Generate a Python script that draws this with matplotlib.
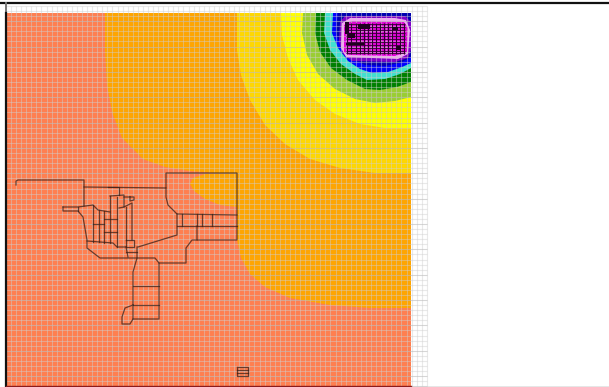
import numpy as np
import matplotlib.pyplot as plt
from matplotlib.patches import Polygon, Rectangle

# field bands, outline in image pixels (x, y), clipped at the plot edge
orange_band = [(105,13),(105,50),(107,85),(112,112),(122,138),(143,159),(165,167),(190,171),(215,173),(237,173),
               (237,240),(241,258),(250,274),(265,287),(290,298),(330,305),(370,308),(411,308),(411,13)]
orange_lobe = [(237,173),(205,174),(193,178),(190,184),(194,191),(205,199),(220,205),(237,207)]
gold_band = [(237,13),(237,50),(241,75),(250,100),(265,125),(285,144),(310,159),(340,168),(375,173),(411,173),(411,13)]
yellow_band = [(281,13),(282,35),(288,58),(298,80),(315,100),(335,114),(360,124),(385,128),(411,128),(411,13)]
yellowgreen_band = [(303,13),(302,33),(307,55),(318,74),(335,89),(355,99),(375,103),(395,101),(411,97),(411,13)]
green_band = [(316,13),(315,33),(320,52),(331,68),(347,80),(365,89),(380,90),(397,87),(411,82),(411,13)]
turquoise_band = [(325,13),(324,33),(330,50),(341,64),(355,74),(367,80),(385,79),(400,74),(411,68),(411,13)]
blue_band = [(333,13),(332,33),(338,48),(348,61),(360,69),(372,73),(388,72),(402,67),(411,63),(411,13)]
navy_band = [(338,13),(336,32),(340,46),(350,58),(365,65),(385,66),(400,63),(411,57),(411,13)]
purple_band = [(345,16),(340,22),(339,42),(343,54),(352,61),(395,62),(408,58),(411,50),(411,22),(405,16)]
halo_band = [(350,18),(342,23),(341,48),(346,57),(398,59),(408,54),(410,30),(406,20),(395,18)]
magenta_band = [(352,21),(344,25),(344,52),(349,55),(395,56),(407,52),(408,28),(404,22)]

band_colors = ['#FFA500','#FFD700','#FFFF00','#9ACD32','#008000','#40E0D0','#0000FF','#0000B0','#8000C8','#F2A8F2','#E000D8']

# tunnel network, each list is one polyline
wires = [
    [(16,185),(16,181),(18,180),(84,180),(84,206)],
    [(84,187),(166,188),(166,173),(237,173),(237,240),(197,240),(197,226)],
    [(166,188),(166,197),(168,205),(177,214),(237,215)],
    [(177,214),(177,235),(138,247)],
    [(177,226),(237,226)],
    [(182,214),(182,226)], [(197,214),(197,226)], [(202,214),(202,226)], [(212,214),(212,226)],
    [(197,240),(192,240),(186,248),(186,263),(159,263),(159,319),(133,319)],
    [(63,207),(78,207),(93,205),(98,210),(104,211),(110,212)],
    [(63,207),(63,211),(78,211),(83,217),(87,240),(87,248),(100,258),(155,258),(159,263)],
    [(78,207),(78,211)],
    [(93,205),(93,242)], [(99,210),(99,242)], [(93,224),(104,224)], [(87,241),(113,243),(117,247),(126,247)],
    [(104,211),(104,243)], [(104,219),(117,219)], [(104,232),(117,232)], [(110,196),(110,243)],
    [(117,197),(117,247)], [(110,196),(124,195),(124,207),(119,208)], [(108,187),(119,187),(119,195)],
    [(124,207),(132,203),(132,240)], [(126,207),(126,240)], [(124,197),(134,197),(134,200),(130,201),(130,197)],
    [(126,240),(134,240),(134,247),(126,247),(126,240)], [(126,252),(137,252)], [(126,247),(128,257)],
    [(137,247),(137,258),(133,272),(133,319),(130,324),(122,324),(122,317),(125,308),(133,305)],
    [(133,286),(159,286)], [(133,305),(159,305)],
    [(237,367),(248,367),(248,376),(237,376),(237,367)], [(237,370),(248,370)], [(237,373),(248,373)],
]

# street lines of the dense block at top right
block_x = [347,351,356,360,364,368,372,376,380,384,388,392,396,400,404]
block_y = [24,27,30,33,36,39,42,45,48,51,53]
block_dark = [(345,22,4,12),(348,33,7,5),(358,24,12,5),(392,27,6,3),(396,46,5,4),(346,43,18,2)]

grid_x = np.arange(6, 430, 5.07)
grid_y = np.arange(6, 387, 5.07)
heavy_y = grid_y[3::5]

fig = plt.figure(figsize=(6.09,3.87), dpi=100)
ax = fig.add_axes([0,0,1,1])
ax.set_xlim(0,609)
ax.set_ylim(387,0)
ax.axis('off')

ax.add_patch(Rectangle((6,13), 405, 373, fc='#FF7F50', ec='none', zorder=1))
ax.add_patch(Polygon(orange_band, fc=band_colors[0], ec='none', zorder=2))
ax.add_patch(Polygon(orange_lobe, fc=band_colors[0], ec='none', zorder=2))
bands = [gold_band, yellow_band, yellowgreen_band, green_band, turquoise_band, blue_band,
         navy_band, purple_band, halo_band, magenta_band]
for i, band in enumerate(bands):
    ax.add_patch(Polygon(band, fc=band_colors[i+1], ec='none', zorder=3+i))

# mesh under the network
ax.vlines(grid_x, 6, 386, color='#cfcfcf', lw=0.8, alpha=0.45, zorder=14)
ax.hlines(grid_y, 6, 427, color='#cfcfcf', lw=0.8, alpha=0.45, zorder=14)
ax.hlines(heavy_y, 6, 427, color='#a8a8a8', lw=0.5, alpha=0.4, zorder=14)

for wire in wires:
    xs, ys = zip(*wire)
    ax.plot(xs, ys, color='#3a2018', lw=0.9, alpha=0.75, zorder=15)

ax.vlines(block_x, 23, 54, color='#300030', lw=0.8, zorder=15)
ax.hlines(block_y, 346, 405, color='#300030', lw=0.6, zorder=15)
for x, y, w, h in block_dark:
    ax.add_patch(Rectangle((x,y), w, h, fc='#200020', ec='none', zorder=15))

# frame
ax.plot([0,609], [3,3], color='#111111', lw=1.6, zorder=30)
ax.plot([5.5,5.5], [3,13], color='#777777', lw=1.4, zorder=30)
ax.plot([5.5,5.5], [13,386], color='#111111', lw=1.6, zorder=30)
ax.plot([6,411], [386,386], color='#8b1a1a', lw=1, zorder=30)
ax.plot([411,609], [386.5,386.5], color='#808080', lw=1, zorder=30)

fig.savefig('out.png', dpi=100)
